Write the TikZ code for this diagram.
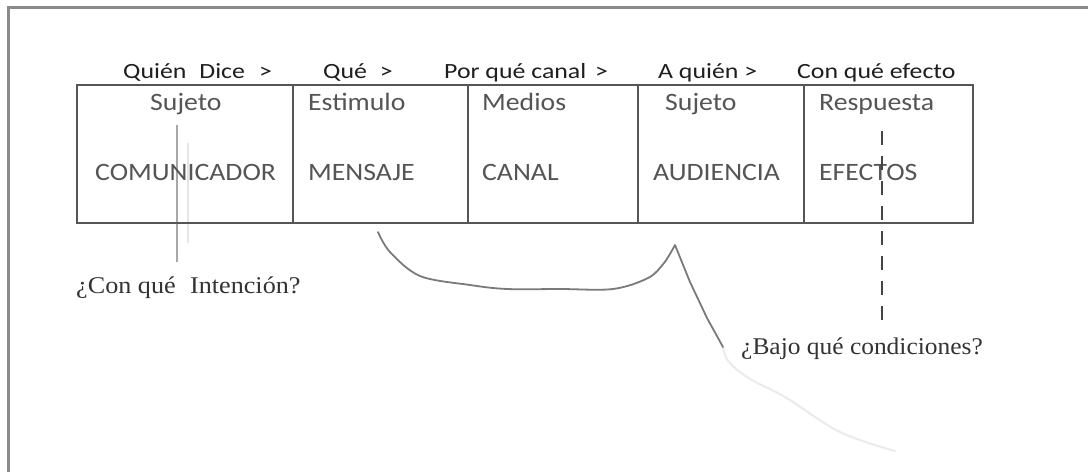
\documentclass[tikz,border=0pt]{standalone}
\usepackage{fontspec}
\setmainfont{Carlito}
\newfontfamily\serifq{Liberation Serif}
\definecolor{framec}{HTML}{8A8A8A}
\definecolor{boxline}{HTML}{555555}
\definecolor{hdrtext}{HTML}{1E1E1E}
\definecolor{boxtext}{HTML}{555555}
\definecolor{lowtext}{HTML}{333333}
\definecolor{curvec}{HTML}{7A7A7A}
\definecolor{ghostc}{HTML}{EBEBEB}
\definecolor{vlinec}{HTML}{A8A8A8}
\definecolor{faintc}{HTML}{E6E6E6}
\definecolor{dashc}{HTML}{444444}
\newcommand\hxs[1]{\scalebox{1.19}[1]{#1}}
\newcommand\bxs[1]{\scalebox{1.11}[1]{#1}}
\newcommand\qxs[1]{\scalebox{1.09}[1]{#1}}
\begin{document}
\begin{tikzpicture}[x=1pt,y=-1pt,
  frame/.style={draw=framec, line width=2.5pt},
  cell/.style={draw=boxline, line width=1.8pt, inner sep=0pt, outer sep=0pt},
  hdr/.style={anchor=base west, inner sep=0pt, text=hdrtext, font=\fontsize{21.7}{24}\selectfont},
  btxt/.style={anchor=base west, inner sep=0pt, text=boxtext, font=\fontsize{25}{28}\selectfont},
  qtxt/.style={anchor=base west, inner sep=0pt, text=lowtext, font=\serifq\fontsize{24}{27}\selectfont},
  curve/.style={draw=curvec, line width=1.8pt, line join=round, line cap=round},
  ghost/.style={draw=ghostc, line width=2pt, line cap=round},
  vline/.style={draw=vlinec, line width=1.2pt},
  faint/.style={draw=faintc, line width=1.2pt},
  dashline/.style={draw=dashc, line width=1.3pt, dash pattern=on 14pt off 11pt}
]
\useasboundingbox (0,0) rectangle (1088,472);
\fill[white] (0,0) rectangle (1088,472);
\draw[frame] (8.5,472) -- (8.5,7.3) -- (1088,7.3);

% header
\node[hdr] (h1) at (123,78) {\hxs{Quién\hspace{0.5em}Dice\hspace{0.55em}>}};
\node[hdr] (h2) at (323,78) {\hxs{Qué\hspace{0.5em}>}};
\node[hdr] (h3) at (444,78) {\hxs{Por qué canal\hspace{0.35em}>}};
\node[hdr] (h4) at (658,78) {\hxs{A quién >}};
\node[hdr] (h5) at (797,78) {\hxs{Con qué efecto}};

% lines under text (drawn before cells' text)
\coordinate (v1a) at (177,125);
\coordinate (v1b) at (177,262);
\draw[faint] (188,143) -- (188,243);
\draw[vline] (v1a) -- (v1b);

% cells
\node[cell, minimum width=216pt, minimum height=138pt] (c1) at (185,154) {};
\node[cell, minimum width=175pt, minimum height=138pt] (c2) at (380.5,154) {};
\node[cell, minimum width=170pt, minimum height=138pt] (c3) at (553,154) {};
\node[cell, minimum width=166pt, minimum height=138pt] (c4) at (721,154) {};
\node[cell, minimum width=169pt, minimum height=138pt] (c5) at (888.5,154) {};

% cell texts
\node[btxt] (s1) at (150,110) {\bxs{Sujeto}};
\node[btxt] (s2) at (308,110) {\bxs{Estimulo}};
\node[btxt] (s3) at (482,110) {\bxs{Medios}};
\node[btxt] (s4) at (665,110) {\bxs{Sujeto}};
\node[btxt] (s5) at (819,110) {\bxs{Respuesta}};
\node[btxt] (m1) at (95,180) {\bxs{COMUNICADOR}};
\node[btxt] (m2) at (308,180) {\bxs{MENSAJE}};
\node[btxt] (m3) at (482,180) {\bxs{CANAL}};
\node[btxt] (m4) at (653,180) {\bxs{AUDIENCIA}};
\node[btxt] (m5) at (819,180) {\bxs{EFECTOS}};

% dashed line
\coordinate (d1) at (882,131);
\coordinate (d2) at (882,320);
\draw[dashline] (d1) -- (d2);

% bottom questions
\node[qtxt] (q1) at (76,293) {\qxs{¿Con qué\hspace{0.55em}Intención?}};
\node[qtxt] (q2) at (741,354) {\scalebox{1.06}[1]{¿Bajo qué condiciones?}};

% hand-drawn curve
\draw[ghost] plot[smooth, tension=0.6] coordinates {(723,347) (729,362) (750,379) (785,397) (840,432) (895,451)};
\draw[curve] plot[smooth, tension=0.55] coordinates {(378,232) (390,252) (420,276) (470,285) (507,289) (560,289) (613,289) (648,278) (664,263) (675,245)}
  -- (690,282) -- (707,318) -- (723,347);
\end{tikzpicture}
\end{document}
